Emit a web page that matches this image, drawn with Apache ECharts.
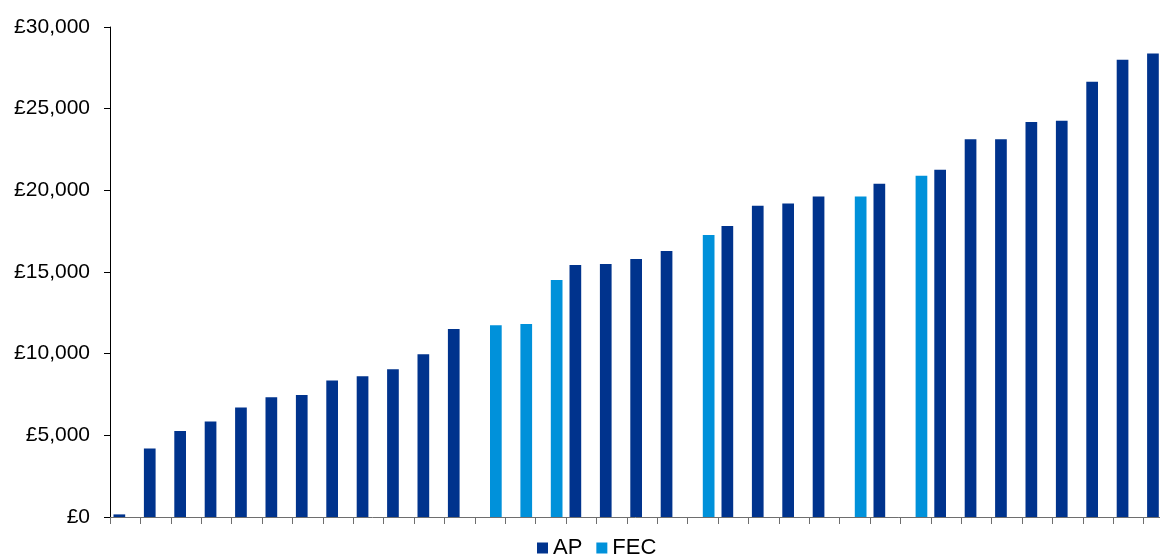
<!DOCTYPE html>
<html>
<head>
<meta charset="utf-8">
<script src="https://cdn.jsdelivr.net/npm/echarts@6/dist/echarts.min.js"></script>
<style>
  html, body { margin: 0; padding: 0; background: #ffffff; }
  #chart { width: 1160px; height: 555px; }
</style>
</head>
<body>
<div id="chart"></div>
<script>
// Institutions ranked by award value (unlabelled on the axis)
const categories = Array.from({ length: 35 }, (_, i) => String(i + 1));

// Award values in pounds; null where the institution has no award of that type
const apValues = [
  160, 4190, 5270, 5840, 6700, 7330, 7470, 8350, 8610, 9040,
  9960, 11510, null, null, null, 15430, 15490, 15800, 16290, null,
  17820, 19060, 19200, 19630, null, 20400, null, 21260, 23120, 23120,
  24180, 24260, 26650, 28000, 28370
];
const fecValues = [
  null, null, null, null, null, null, null, null, null, null,
  null, null, 11740, 11820, 14510, null, null, null, null, 17270,
  null, null, null, null, 19630, null, 20900, null, null, null,
  null, null, null, null, null
];

const yTicks = { min: 0, max: 30000, interval: 5000 };

const chart = echarts.init(document.getElementById('chart'), null, { renderer: 'canvas' });

const fmtPounds = v => '£' + String(v).replace(/\B(?=(\d{3})+(?!\d))/g, ',');

chart.setOption({
  animation: false,
  backgroundColor: '#ffffff',
  textStyle: { fontFamily: 'Liberation Sans, Arial, sans-serif' },
  grid: {
    left: 110,
    top: 27,
    width: 1064,
    height: 490,
    containLabel: false,
    outerBoundsMode: 'none'
  },
  legend: {
    data: ['AP', 'FEC'],
    left: 537,
    top: 537,
    padding: 0,
    icon: 'rect',
    itemWidth: 11,
    itemHeight: 11,
    itemGap: 14,
    textStyle: { fontSize: 22, color: '#000000', fontFamily: 'Liberation Sans, Arial, sans-serif' }
  },
  xAxis: {
    type: 'category',
    data: categories,
    boundaryGap: true,
    axisLine: { show: true, lineStyle: { color: '#6e6e6e', width: 1 } },
    axisTick: { show: true, interval: 0, length: 7, lineStyle: { color: '#6e6e6e', width: 1 } },
    axisLabel: { show: false },
    splitLine: { show: false }
  },
  yAxis: {
    type: 'value',
    min: yTicks.min,
    max: yTicks.max,
    interval: yTicks.interval,
    axisLine: { show: true, lineStyle: { color: '#000000', width: 1 } },
    axisTick: { show: true, length: 6, lineStyle: { color: '#000000', width: 1 } },
    axisLabel: {
      margin: 20,
      fontSize: 21,
      color: '#000000',
      fontFamily: 'Liberation Sans, Arial, sans-serif',
      formatter: fmtPounds
    },
    splitLine: { show: false }
  },
  series: [
    {
      name: 'AP',
      type: 'bar',
      data: apValues,
      barWidth: 11.7,
      barGap: '0%',
      itemStyle: { color: '#00338D' }
    },
    {
      name: 'FEC',
      type: 'bar',
      data: fecValues,
      barWidth: 11.7,
      barGap: '0%',
      itemStyle: { color: '#0091DA' }
    }
  ]
});
</script>
</body>
</html>
